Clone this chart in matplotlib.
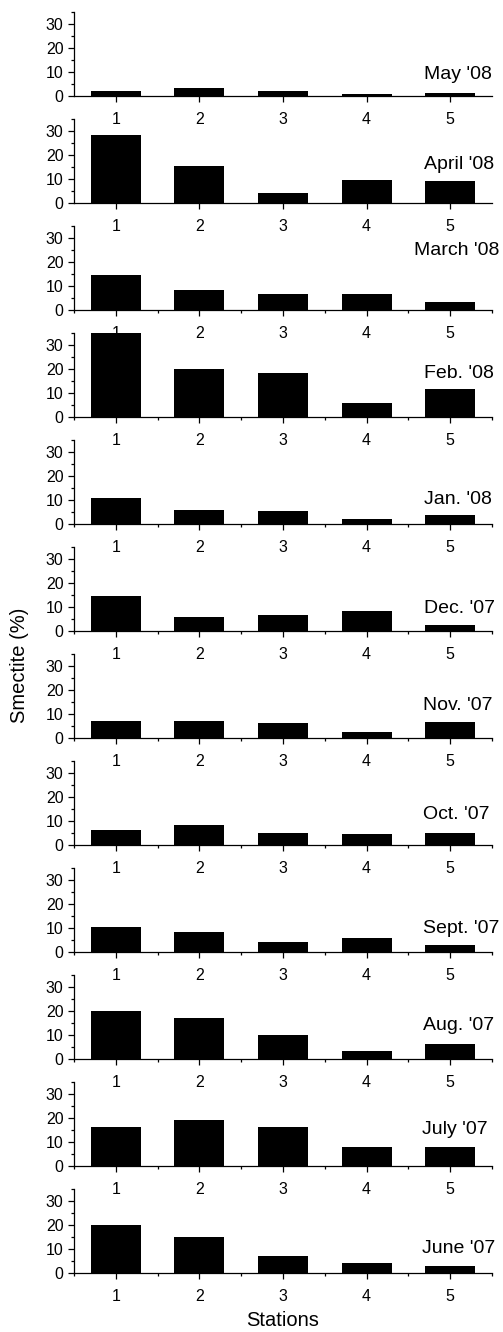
import matplotlib as mpl
mpl.use('Agg')
import matplotlib.pyplot as plt
from matplotlib.ticker import MultipleLocator, NullLocator

plt.rcParams['font.family'] = ['Liberation Sans', 'DejaVu Sans']

# smectite content (%) per station, top panel first
stations = [1, 2, 3, 4, 5]
months = ["May '08", "April '08", "March '08", "Feb. '08", "Jan. '08", "Dec. '07",
          "Nov. '07", "Oct. '07", "Sept. '07", "Aug. '07", "July '07", "June '07"]
may08 = [1.9, 3.3, 1.9, 1.0, 1.4]
apr08 = [28.2, 15.6, 4.3, 9.5, 9.1]
mar08 = [14.4, 8.3, 6.7, 6.8, 3.5]
feb08 = [35.0, 19.9, 18.2, 5.8, 11.7]
jan08 = [10.7, 5.8, 5.6, 1.9, 3.9]
dec07 = [14.4, 5.8, 6.7, 8.3, 2.4]
nov07 = [7.2, 7.2, 6.4, 2.6, 6.7]
oct07 = [6.1, 8.2, 5.0, 4.4, 5.0]
sep07 = [10.3, 8.3, 4.0, 5.7, 3.1]
aug07 = [20.0, 17.1, 10.1, 3.2, 6.1]
jul07 = [16.1, 19.0, 16.1, 8.1, 8.1]
jun07 = [19.9, 15.1, 7.1, 4.0, 3.1]
values = [may08, apr08, mar08, feb08, jan08, dec07,
          nov07, oct07, sep07, aug07, jul07, jun07]

# where each month label sits (data coords: x, baseline y)
label_x = [4.69, 4.69, 4.57, 4.69, 4.69, 4.69, 4.67, 4.67, 4.67, 4.67, 4.66, 4.66]
label_y = [6.9, 14.0, 23.0, 16.3, 8.3, 7.3, 11.5, 11.0, 7.8, 11.9, 13.3, 8.4]

W, H = 503, 1332
fig = plt.figure(figsize=(W / 100.0, H / 100.0), dpi=100)

left = 74.0 / W
width = (492.0 - 74.0) / W
top0 = 12.0
pitch = 107.0
ph = 84.0

for i in range(len(months)):
    bottom = 1 - (top0 + pitch * i + ph) / H
    ax = fig.add_axes([left, bottom, width, ph / H])
    ax.patch.set_alpha(0)
    ax.bar(stations, values[i], width=0.6, color='black', edgecolor='none')
    ax.set_xlim(0.5, 5.5)
    ax.set_ylim(0, 35)
    ax.spines['top'].set_visible(False)
    ax.spines['right'].set_visible(False)
    for s in ('left', 'bottom'):
        ax.spines[s].set_linewidth(0.9)
    ax.set_xticks(stations)
    ax.set_yticks([0, 10, 20, 30])
    ax.yaxis.set_minor_locator(MultipleLocator(5))
    if i < 2:
        ax.xaxis.set_minor_locator(NullLocator())
    else:
        ax.xaxis.set_minor_locator(MultipleLocator(0.5))
    ax.tick_params(which='major', direction='out', length=4.5, width=0.9,
                   labelsize=11.5)
    ax.tick_params(axis='x', which='major', pad=7)
    ax.tick_params(axis='y', which='major', pad=3)
    ax.tick_params(which='minor', direction='out', length=2.3, width=0.9)
    ax.text(label_x[i], label_y[i], months[i], fontsize=14, ha='left',
            va='baseline', clip_on=False)

fig.text(20.0 / W, 1 - 665.0 / H, 'Smectite (%)', rotation=90, fontsize=14.5,
         ha='center', va='center')
fig.text(283.0 / W, 1 - 1321.0 / H, 'Stations', fontsize=14.5,
         ha='center', va='center')

fig.savefig('out.png', dpi=100)
